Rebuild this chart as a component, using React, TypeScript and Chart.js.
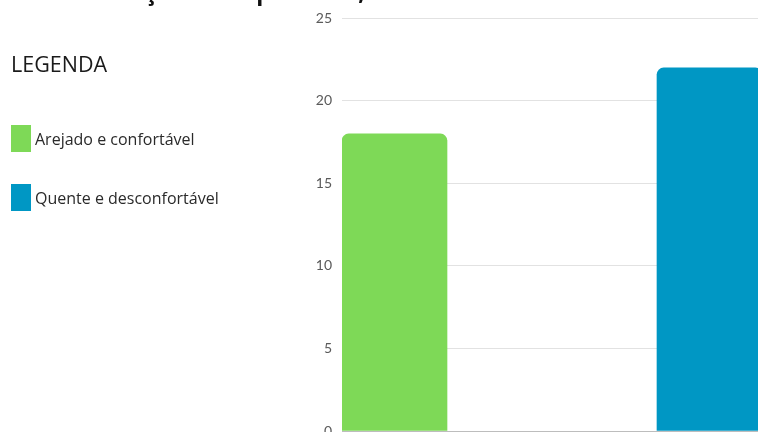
import React, { useEffect, useRef } from "react";
import { Chart, registerables } from "chart.js";

Chart.register(...registerables);

// ---- data ----
const TITLE = "Em relação à temperatura, como se sente dentro da sala?";
const LEGEND_TITLE = "LEGENDA";
const SERIES_NAMES = ["Arejado e confortável", "Quente e desconfortável"];
const SERIES_COLORS = ["#7ED957", "#0097C4"];
// slots along the x axis (the two answers sit at the two ends)
const SLOTS = ["Arejado e confortável", "", "", "Quente e desconfortável"];
const AREJADO = [18, null, null, null];
const QUENTE = [null, null, null, 22];
const Y_TICKS = [0, 5, 10, 15, 20, 25];

const titlePlugin = {
  id: "cutTitle",
  afterDraw(chart: any) {
    const ctx = chart.ctx;
    ctx.save();
    ctx.font = 'bold 23px "Open Sans"';
    ctx.fillStyle = "#111";
    ctx.textBaseline = "alphabetic";
    ctx.fillText(TITLE, 58, 0);
    ctx.restore();
  },
};

export default function App() {
  const ref = useRef<HTMLCanvasElement | null>(null);

  useEffect(() => {
    if (!ref.current) return;
    const chart = new Chart(ref.current, {
      type: "bar",
      data: {
        labels: SLOTS,
        datasets: [
          {
            label: SERIES_NAMES[0],
            data: AREJADO,
            backgroundColor: SERIES_COLORS[0],
            borderRadius: { topLeft: 7, topRight: 7, bottomLeft: 0, bottomRight: 0 },
            borderSkipped: false,
          },
          {
            label: SERIES_NAMES[1],
            data: QUENTE,
            backgroundColor: SERIES_COLORS[1],
            borderRadius: { topLeft: 7, topRight: 7, bottomLeft: 0, bottomRight: 0 },
            borderSkipped: false,
          },
        ],
      },
      options: {
        animation: false,
        responsive: false,
        maintainAspectRatio: false,
        skipNull: true,
        categoryPercentage: 1,
        barPercentage: 1,
        layout: { padding: { left: 290, top: 18, right: 8, bottom: 29 } },
        plugins: {
          legend: { display: false },
          tooltip: { enabled: false },
          title: { display: false },
        },
        scales: {
          x: { display: false, offset: true },
          y: {
            min: Y_TICKS[0],
            max: Y_TICKS[Y_TICKS.length - 1],
            afterFit: (scale: any) => {
              scale.width = 52;
            },
            afterBuildTicks: (scale: any) => {
              scale.ticks = Y_TICKS.map((v) => ({ value: v }));
            },
            border: { display: false },
            grid: {
              drawTicks: false,
              color: (c: any) => (c.tick && c.tick.value === 0 ? "#bdbdbd" : "#e2e2e2"),
              lineWidth: 1,
            },
            ticks: {
              padding: 10,
              color: "#5a5a5a",
              font: { family: "Lato", size: 14 },
            },
          },
        },
      } as any,
      plugins: [titlePlugin],
    });
    return () => chart.destroy();
  }, []);

  return (
    <div
      style={{
        position: "fixed",
        left: 0,
        top: 0,
        width: 758,
        height: 432,
        overflow: "hidden",
        background: "#fff",
      }}
    >
      <canvas ref={ref} width={770} height={460} style={{ position: "absolute", left: 0, top: 0 }} />
      <div
        style={{
          position: "absolute",
          left: 11,
          top: 53,
          fontFamily: '"Open Sans"',
          fontSize: 21.5,
          lineHeight: "21px",
          color: "#1a1a1a",
        }}
      >
        {LEGEND_TITLE}
      </div>
      {SERIES_NAMES.map((name, i) => (
        <div
          key={name}
          style={{
            position: "absolute",
            left: 11,
            top: 125 + i * 59,
            height: 27,
            display: "flex",
            alignItems: "center",
            fontFamily: '"Open Sans"',
            fontSize: 16,
            color: "#2a2a2a",
            whiteSpace: "nowrap",
          }}
        >
          <span
            style={{
              display: "inline-block",
              width: 20,
              height: 27,
              background: SERIES_COLORS[i],
              marginRight: 4,
            }}
          />
          {name}
        </div>
      ))}
    </div>
  );
}
